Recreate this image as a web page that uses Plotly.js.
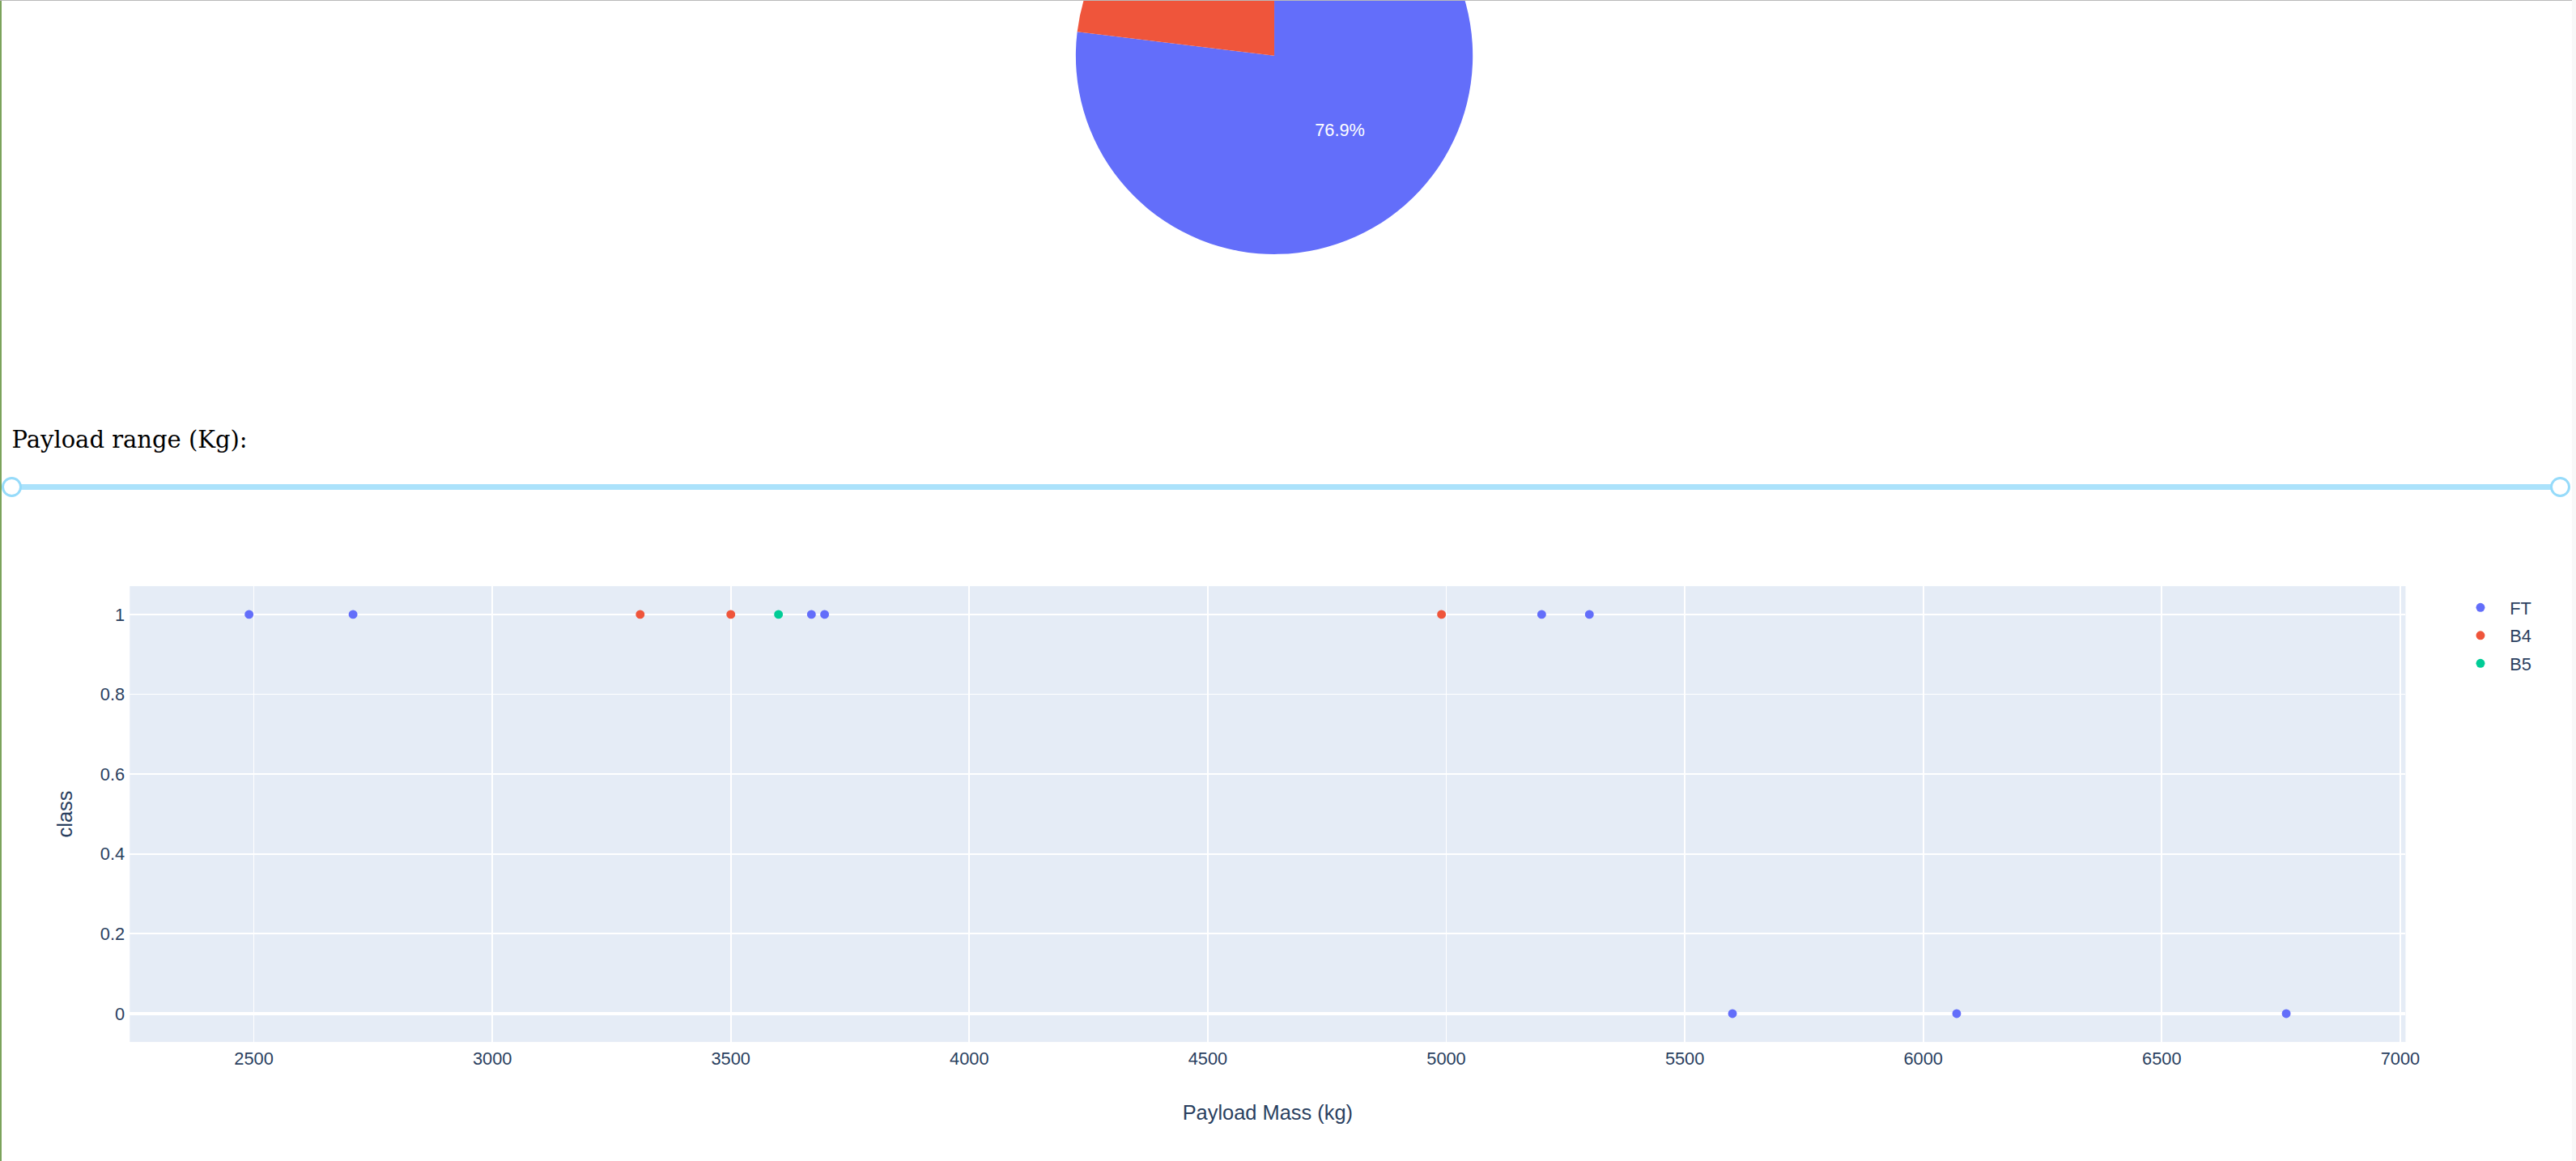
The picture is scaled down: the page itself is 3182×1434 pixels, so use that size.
<!DOCTYPE html>
<html>
<head>
<meta charset="utf-8">
<script src="https://cdn.plot.ly/plotly-3.0.1.min.js"></script>
<style>
  html, body { margin: 0; padding: 0; background: #ffffff; overflow: hidden; width: 3182px; height: 1434px; }
  .zoomwrap { position: absolute; left: 14.5px; width: 1733.2px; height: 450px; transform: scale(1.816); transform-origin: 0 0; }
  #pieWrap { top: -358px; }
  #scatterWrap { top: 615px; }
  #rangeLabel { position: absolute; left: 14.5px; top: 526px; margin: 0; font-family: "DejaVu Serif", serif; font-size: 29px; line-height: 34px; color: #000; }
  #rail { position: absolute; left: 14.5px; top: 598px; width: 3147.5px; height: 7.3px; background: #abe2fb; border-radius: 4px; }
  .handle { position: absolute; width: 25px; height: 25px; box-sizing: border-box; border: 3.6px solid #96dbfa; border-radius: 50%; background: #fff; top: 589.2px; }
  #h1 { left: 2px; }
  #h2 { left: 3149.5px; }
  #frameLeft { position: absolute; left: 0; top: 0; width: 2px; height: 1434px; background: #7ba35b; z-index: 10; }
  #frameTop { position: absolute; left: 0; top: 0; width: 3182px; height: 1px; background: #b9b9b9; z-index: 10; }
  #frameRight { position: absolute; left: 3177px; top: 0; width: 5px; height: 1434px; background: #f8f8f8; z-index: 10; }
</style>
</head>
<body>
<div id="pieWrap" class="zoomwrap"></div>
<p id="rangeLabel">Payload range (Kg):</p>
<div id="rail"></div>
<div id="h1" class="handle"></div>
<div id="h2" class="handle"></div>
<div id="scatterWrap" class="zoomwrap"></div>
<div id="frameLeft"></div>
<div id="frameTop"></div>
<div id="frameRight"></div>
<script>
// ---- data ----
const pieLabels = ['1', '0'];
const pieValues = [10, 3];
const pieColors = ['#636efa', '#EF553B'];
// the second slice's label lies above the visible page in the reference
const pieTextTemplates = ['%{percent}', ''];

const boosterCategories = ['FT', 'B4', 'B5'];
const ftPayload = [2490, 5600, 5300, 3696.65, 6070, 3669, 2708, 6761, 5200];
const ftClass   = [1, 0, 1, 1, 0, 1, 1, 0, 1];
const b4Payload = [3310, 4990, 3500];
const b4Class   = [1, 1, 1];
const b5Payload = [3600];
const b5Class   = [1];
const seriesColors = ['#636efa', '#EF553B', '#00cc96'];

const xTitle = 'Payload Mass (kg)';
const yTitle = 'class';

// ---- figures ----
const FIG_W = 1733.2, FIG_H = 450;
const FONT = '"Liberation Sans", Arial, sans-serif';
const config = { displayModeBar: false, responsive: false };

Plotly.newPlot('pieWrap', [{
  type: 'pie',
  labels: pieLabels,
  values: pieValues,
  marker: { colors: pieColors },
  direction: 'clockwise',
  texttemplate: pieTextTemplates,
  sort: true
}], {
  width: FIG_W, height: FIG_H,
  margin: { l: 80, r: 96, t: 100, b: 80 },
  showlegend: false,
  paper_bgcolor: '#ffffff',
  font: { family: FONT, color: '#2a3f5f' }
}, config);

const xs = [ftPayload, b4Payload, b5Payload];
const ys = [ftClass, b4Class, b5Class];
const traces = boosterCategories.map((name, i) => ({
  type: 'scatter',
  mode: 'markers',
  name: name,
  x: xs[i],
  y: ys[i],
  marker: { color: seriesColors[i], size: 6, symbol: 'circle' }
}));

Plotly.newPlot('scatterWrap', traces, {
  width: FIG_W, height: FIG_H,
  margin: { l: 80, r: 105, t: 60, b: 80 },
  paper_bgcolor: '#ffffff',
  plot_bgcolor: '#E5ECF6',
  font: { family: FONT, color: '#2a3f5f' },
  xaxis: {
    title: { text: xTitle, standoff: 25 },
    gridcolor: 'white', linecolor: 'white', zerolinecolor: 'white', zerolinewidth: 2,
    ticks: '', automargin: true
  },
  yaxis: {
    title: { text: yTitle, standoff: 15 },
    gridcolor: 'white', linecolor: 'white', zerolinecolor: 'white', zerolinewidth: 2,
    ticks: '', automargin: true
  },
  legend: { tracegroupgap: 0 },
  showlegend: true
}, config);
</script>
</body>
</html>
